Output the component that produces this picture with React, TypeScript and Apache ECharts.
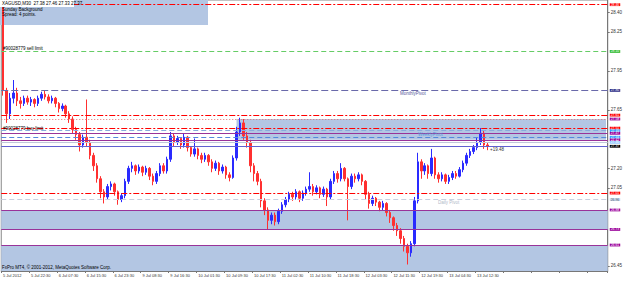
import React, { useEffect, useRef } from "react";
import * as echarts from "echarts";

const tickLabels = [
  "5 Jul 2012", "5 Jul 22:30", "6 Jul 07:30", "6 Jul 15:30", "6 Jul 23:30",
  "9 Jul 08:30", "9 Jul 16:30", "10 Jul 01:30", "10 Jul 09:30", "10 Jul 17:30",
  "11 Jul 02:30", "11 Jul 10:30", "11 Jul 18:30", "12 Jul 03:30", "12 Jul 11:30",
  "12 Jul 19:30", "13 Jul 04:30", "13 Jul 12:30",
];

const opens = [
  28.46, 27.80, 27.62, 27.74, 27.78, 27.72, 27.70, 27.74, 27.71, 27.73,
  27.70, 27.74, 27.77, 27.75, 27.72, 27.74, 27.70, 27.66, 27.68, 27.62,
  27.58, 27.50, 27.46, 27.38, 27.44, 27.40, 27.30, 27.22, 27.12, 27.02,
  26.98, 27.06, 27.08, 27.02, 26.96, 26.99, 27.10, 27.20, 27.22, 27.18,
  27.21, 27.17, 27.20, 27.14, 27.10, 27.16, 27.22, 27.18, 27.27, 27.45,
  27.40, 27.43, 27.38, 27.44, 27.36, 27.31, 27.35, 27.30, 27.27, 27.30,
  27.25, 27.20, 27.24, 27.18, 27.21, 27.15, 27.13, 27.28, 27.48, 27.55,
  27.45, 27.40, 27.22, 27.16, 27.10, 26.95, 26.88, 26.80, 26.84, 26.79,
  26.87, 26.92, 26.96, 27.00, 26.98, 27.02, 26.97, 27.01, 27.04, 27.06,
  27.02, 27.05, 27.00, 27.04, 26.98, 27.10, 27.16, 27.12, 27.20, 27.12,
  27.06, 27.14, 27.12, 27.15, 27.10, 27.00, 26.93, 26.97, 26.94, 26.90,
  26.93, 26.86, 26.82, 26.76, 26.72, 26.66, 26.60, 26.55, 26.62, 26.95,
  27.25, 27.18, 27.22, 27.16, 27.28, 27.15, 27.12, 27.15, 27.10, 27.13,
  27.16, 27.14, 27.19, 27.24, 27.30, 27.33, 27.36, 27.40, 27.47, 27.38,
];
const closes = [
  27.80, 27.62, 27.74, 27.78, 27.72, 27.70, 27.74, 27.71, 27.73, 27.70,
  27.74, 27.77, 27.75, 27.72, 27.74, 27.70, 27.66, 27.68, 27.62, 27.58,
  27.50, 27.46, 27.38, 27.44, 27.40, 27.30, 27.22, 27.12, 27.02, 26.98,
  27.06, 27.08, 27.02, 26.96, 26.99, 27.10, 27.20, 27.22, 27.18, 27.21,
  27.17, 27.20, 27.14, 27.10, 27.16, 27.22, 27.18, 27.27, 27.45, 27.40,
  27.43, 27.38, 27.44, 27.36, 27.31, 27.35, 27.30, 27.27, 27.30, 27.25,
  27.20, 27.24, 27.18, 27.21, 27.15, 27.13, 27.28, 27.48, 27.55, 27.45,
  27.40, 27.22, 27.16, 27.10, 26.95, 26.88, 26.80, 26.84, 26.79, 26.87,
  26.92, 26.96, 27.00, 26.98, 27.02, 26.97, 27.01, 27.04, 27.06, 27.02,
  27.05, 27.00, 27.04, 26.98, 27.10, 27.16, 27.12, 27.20, 27.12, 27.06,
  27.14, 27.12, 27.15, 27.10, 27.00, 26.93, 26.97, 26.94, 26.90, 26.93,
  26.86, 26.82, 26.76, 26.72, 26.66, 26.60, 26.55, 26.62, 26.95, 27.25,
  27.18, 27.22, 27.16, 27.28, 27.15, 27.12, 27.15, 27.10, 27.13, 27.16,
  27.14, 27.19, 27.24, 27.30, 27.33, 27.36, 27.40, 27.47, 27.38, 27.37,
];
const lows = [
  27.76, 27.55, 27.58, 27.70, 27.68, 27.66, 27.68, 27.69, 27.68, 27.67,
  27.68, 27.72, 27.73, 27.70, 27.70, 27.67, 27.63, 27.64, 27.59, 27.55,
  27.47, 27.42, 27.33, 27.36, 27.37, 27.27, 27.18, 27.09, 26.97, 26.93,
  26.96, 27.03, 26.99, 26.92, 26.94, 26.97, 27.08, 27.17, 27.15, 27.16,
  27.14, 27.15, 27.11, 27.07, 27.08, 27.14, 27.16, 27.16, 27.25, 27.37,
  27.38, 27.35, 27.36, 27.33, 27.29, 27.29, 27.27, 27.24, 27.25, 27.22,
  27.17, 27.18, 27.15, 27.16, 27.12, 27.10, 27.12, 27.26, 27.45, 27.42,
  27.36, 27.17, 27.10, 27.07, 26.90, 26.84, 26.73, 26.77, 26.76, 26.77,
  26.85, 26.90, 26.94, 26.95, 26.96, 26.94, 26.95, 26.99, 27.02, 26.99,
  27.00, 26.97, 26.98, 26.91, 26.96, 27.08, 27.09, 27.10, 27.10, 26.80,
  27.04, 27.09, 27.10, 27.07, 26.96, 26.89, 26.91, 26.91, 26.87, 26.88,
  26.83, 26.78, 26.72, 26.68, 26.62, 26.56, 26.46, 26.52, 26.60, 26.93,
  27.12, 27.15, 27.12, 27.14, 27.12, 27.09, 27.10, 27.08, 27.08, 27.11,
  27.12, 27.13, 27.17, 27.22, 27.28, 27.31, 27.34, 27.38, 27.35, 27.34,
];
const highs = [
  28.48, 27.82, 27.78, 27.88, 27.82, 27.75, 27.76, 27.76, 27.75, 27.74,
  27.76, 27.79, 27.80, 27.77, 27.76, 27.75, 27.71, 27.70, 27.69, 27.64,
  27.60, 27.52, 27.48, 27.46, 27.73, 27.42, 27.32, 27.24, 27.14, 27.04,
  27.08, 27.10, 27.09, 27.03, 27.01, 27.12, 27.22, 27.25, 27.23, 27.23,
  27.22, 27.22, 27.21, 27.16, 27.18, 27.24, 27.24, 27.29, 27.48, 27.47,
  27.45, 27.44, 27.47, 27.45, 27.37, 27.43, 27.36, 27.32, 27.32, 27.31,
  27.27, 27.26, 27.25, 27.23, 27.22, 27.17, 27.30, 27.52, 27.59, 27.58,
  27.48, 27.42, 27.24, 27.18, 27.12, 26.97, 26.90, 26.86, 26.86, 26.89,
  26.94, 26.98, 27.02, 27.02, 27.04, 27.03, 27.03, 27.06, 27.17, 27.08,
  27.07, 27.06, 27.06, 27.05, 27.12, 27.18, 27.18, 27.24, 27.21, 27.13,
  27.16, 27.16, 27.17, 27.16, 27.11, 27.02, 26.99, 26.98, 26.95, 26.95,
  26.94, 26.88, 26.83, 26.78, 26.74, 26.68, 26.62, 26.64, 26.98, 27.32,
  27.27, 27.24, 27.23, 27.35, 27.29, 27.17, 27.17, 27.16, 27.15, 27.18,
  27.18, 27.21, 27.26, 27.32, 27.35, 27.38, 27.44, 27.51, 27.49, 27.40,
];

// price-scale labels that are visible (the others are covered by level boxes)
const yTicks = [28.40, 28.25, 27.95, 27.65, 27.20, 27.05, 26.45];

const levelValues = [28.46, 28.10, 27.80, 27.61, 27.58, 27.51, 27.49, 27.47, 27.44, 27.42, 27.40, 27.37, 27.01, 26.96, 26.88, 26.73, 26.61];
// zones: top, bottom, first bar
const zoneTops = [27.58, 26.88, 26.61];
const zoneBottoms = [27.42, 26.73, 26.41];
const zoneStarts = [67, 0, 0];

const annotationTexts = ["MonthlyPivot", "WeeklyPivot", "Daily Pivot", "#90028779 sell limit", "#90028779 buy limit", "+19.48"];
const annotationValues = [27.80, 27.44, 26.96, 28.10, 27.49, 27.37];

const infoLines = ["XAGUSD,M30  27.38 27.46 27.33 27.37", "Sunday Background", "Spread: 4 points."];
const copyright = "FxPro MT4, © 2001-2012, MetaQuotes Software Corp.";

const N_CAT = 174;
const Y_MIN = 26.41;
const Y_MAX = 28.496;

const RED = "#ff0000";
const BLUE = "#2a2aff";
const PURPLE = "#993399";

const levelStyles = [
  { c: RED, t: [6, 2, 2, 2], box: "#ff0000" },
  { c: "#66cc66", t: [5, 3], box: "#33bb33" },
  { c: "#6a6aaa", t: [7, 3], box: "#333388" },
  { c: RED, t: [6, 2, 2, 2], box: "#ff0000" },
  { c: "#e07070", t: [1, 2], box: "#990099" },
  { c: RED, t: [6, 2, 2, 2], box: "#ff0000" },
  { c: "#88aadd", t: [5, 3], box: "#3399ff" },
  { c: PURPLE, t: "solid", box: "#990099" },
  { c: "#5588dd", t: [5, 3], box: "#3399ff" },
  { c: PURPLE, t: "solid", box: "#990099" },
  { c: "#c0c8da", t: "solid", box: "#99ccff" },
  { c: "#6060d0", t: "solid", box: "#000000" },
  { c: RED, t: [6, 2, 2, 2], box: "#ff0000" },
  { c: "#c8d0e0", t: [5, 3], box: "#c8dcf0" },
  { c: PURPLE, t: "solid", box: "#990099" },
  { c: PURPLE, t: "solid", box: "#990099" },
  { c: PURPLE, t: "solid", box: "#990099" },
];

export default function App() {
  const ref = useRef<HTMLDivElement>(null);
  useEffect(() => {
    if (!ref.current) return;
    const chart = echarts.init(ref.current, null, { renderer: "svg" });
    const categories = Array.from({ length: N_CAT }, (_, i) => String(i));
    const candles = opens.map((o, i) => [o, closes[i], lows[i], highs[i]]);
    const font = "Liberation Sans, Arial, sans-serif";

    const markLineData = levelValues.map((v, i) => ({
      yAxis: v,
      lineStyle: { color: levelStyles[i].c, type: levelStyles[i].t as any, width: 1, opacity: 1 },
      label: {
        show: true,
        position: "end",
        formatter: v.toFixed(2),
        backgroundColor: levelStyles[i].box,
        color: levelStyles[i].box === "#c8dcf0" ? "#556" : "#fff",
        fontSize: 3.4,
        lineHeight: 2.8,
        fontFamily: font,
        padding: [0, 1, 0, 1],
        distance: 2,
      },
    }));

    const markAreaData = zoneTops.map((t, i) =>
      zoneStarts[i] > 0
        ? [{ xAxis: zoneStarts[i], yAxis: t }, { xAxis: N_CAT - 1, yAxis: zoneBottoms[i] }]
        : [{ yAxis: t }, { yAxis: zoneBottoms[i] }]
    );

    chart.setOption({
      animation: false,
      backgroundColor: "#ffffff",
      grid: { left: 0, right: 17, top: 0, bottom: 10, show: true, borderColor: "#888", borderWidth: 1, backgroundColor: "#fff" },
      xAxis: {
        type: "category",
        data: categories,
        boundaryGap: true,
        axisLine: { show: true, lineStyle: { color: "#777" } },
        axisTick: { show: true, interval: (i: number) => i % 8 === 0, length: 2, lineStyle: { color: "#777" } },
        axisLabel: {
          interval: (i: number) => i % 8 === 0,
          formatter: (_v: string, i: number) => (i % 8 === 0 ? tickLabels[i / 8] ?? "" : ""),
          fontSize: 4,
          color: "#333",
          align: "left",
          margin: 2,
          fontFamily: font,
        },
        splitLine: { show: false },
      },
      yAxis: {
        type: "value",
        position: "right",
        min: Y_MIN,
        max: Y_MAX,
        axisLine: { show: true, lineStyle: { color: "#777" } },
        axisTick: { show: true, customValues: yTicks, length: 2, lineStyle: { color: "#777" } },
        axisLabel: {
          customValues: yTicks,
          formatter: (v: number) => v.toFixed(2),
          fontSize: 4.5,
          color: "#333",
          margin: 3,
          fontFamily: font,
        },
        splitLine: { show: false },
      },
      series: [
        {
          type: "line",
          data: [],
          z: 1,
          silent: true,
          markArea: { silent: true, itemStyle: { color: "#b3c6e3", borderWidth: 0 }, data: markAreaData },
        },
        {
          type: "line",
          data: [],
          z: 2,
          silent: true,
          markLine: { silent: true, symbol: ["none", "none"], data: markLineData },
        },
        {
          type: "candlestick",
          data: candles,
          z: 3,
          barWidth: 2,
          itemStyle: { color: BLUE, color0: "#ff3030", borderColor: BLUE, borderColor0: "#ff3030", borderWidth: 1 },
        },
      ],
    });

    const y = (v: number) => chart.convertToPixel({ yAxisIndex: 0 }, v) as number;
    const annX = [400, 418, 438, 3, 3, 490];
    const annDy = [1, -5, 0, -5, -5, 1];
    const annColor = ["#55559a", "#5a9ad8", "#b0b8c8", "#000", "#000", "#333"];
    const graphics: any[] = [
      { type: "rect", z: 0, shape: { x: 0, y: 0, width: 208, height: 25 }, style: { fill: "#b3c6e3" } },
      { type: "rect", z: 10, shape: { x: 0, y: 0, width: 74, height: 7 }, style: { fill: "#fff" } },
      ...infoLines.map((t, i) => ({
        type: "text", z: 11, x: 2, y: 1 + i * 5.7,
        style: { text: t, fill: "#000", fontSize: 4.5, fontFamily: font },
      })),
      ...annotationTexts.map((t, i) => ({
        type: "text", z: 11, x: annX[i], y: y(annotationValues[i]) + annDy[i],
        style: { text: t, fill: annColor[i], fontSize: 4.5, fontFamily: font },
      })),
      {
        type: "text", z: 11, x: 2, y: 265,
        style: { text: copyright, fill: "#000", fontSize: 4.5, fontFamily: font },
      },
    ];
    chart.setOption({ graphic: graphics });

    return () => chart.dispose();
  }, []);
  return <div ref={ref} style={{ position: "fixed", left: 0, top: 0, width: 625, height: 281 }} />;
}
